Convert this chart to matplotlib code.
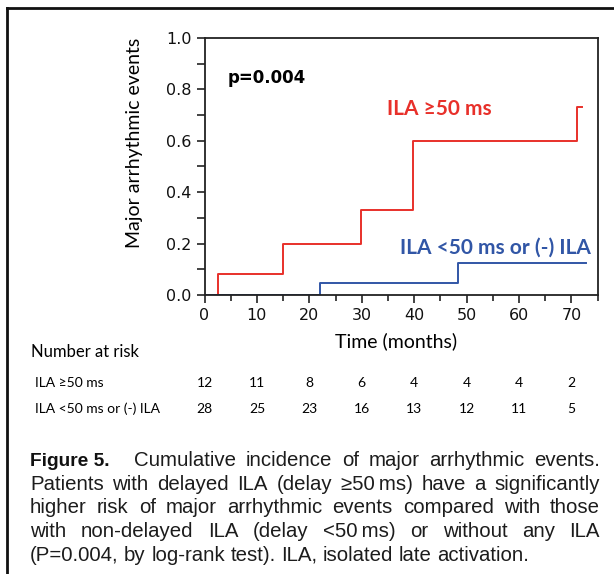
import matplotlib
matplotlib.use("Agg")
import matplotlib.pyplot as plt
import matplotlib.transforms as mtransforms
from matplotlib.lines import Line2D
from matplotlib.ticker import MultipleLocator

# cumulative incidence steps (time in months, cumulative event rate)
high_t = [2.6, 15.0, 29.9, 39.8, 71.1, 72.0]
high_y = [0.082, 0.198, 0.331, 0.599, 0.733, 0.733]
low_t = [22.0, 48.4, 72.8]
low_y = [0.045, 0.125, 0.125]

risk_times = [0, 10, 20, 30, 40, 50, 60, 70]
risk_high = [12, 11, 8, 6, 4, 4, 4, 2]
risk_low = [28, 25, 23, 16, 13, 12, 11, 5]
row_labels = ["ILA \u226550 ms", "ILA <50 ms or (-) ILA"]

caption_lines = [
    ["Figure 5.", "Cumulative", "incidence", "of", "major", "arrhythmic", "events."],
    ["Patients", "with", "delayed", "ILA", "(delay", "\u226550\u2009ms)", "have", "a", "significantly"],
    ["higher", "risk", "of", "major", "arrhythmic", "events", "compared", "with", "those"],
    ["with", "non-delayed", "ILA", "(delay", "<50\u2009ms)", "or", "without", "any", "ILA"],
    ["(P=0.004,", "by", "log-rank", "test).", "ILA,", "isolated", "late", "activation."],
]

RED = "#e8302a"
BLUE = "#3156a6"
W, H = 614, 574

fig = plt.figure(figsize=(W / 100, H / 100), dpi=100)
ax = fig.add_axes([204.5 / W, 1 - 295 / H, (597.7 - 204.5) / W, (295 - 38) / H])


def px(x, y):
    return x / W, 1 - y / H


# curves start at 0
ax.step([0] + high_t, [0] + high_y, where="post", color=RED, lw=1.4)
ax.step([0] + low_t, [0] + low_y, where="post", color=BLUE, lw=1.4)

ax.set_xlim(0, 75)
ax.set_ylim(0, 1.0)
ax.xaxis.set_major_locator(MultipleLocator(10))
ax.xaxis.set_minor_locator(MultipleLocator(5))
ax.yaxis.set_major_locator(MultipleLocator(0.2))
ax.yaxis.set_minor_locator(MultipleLocator(0.1))
ax.yaxis.set_major_formatter(matplotlib.ticker.FormatStrFormatter("%.1f"))
ax.tick_params(which="both", direction="out", color="#222222", width=1.2,
               labelsize=11.5, labelcolor="#111111")
ax.tick_params(axis="y", which="both", length=6)
ax.tick_params(axis="x", which="major", length=6)
ax.tick_params(axis="x", which="minor", length=4)
for s in ax.spines.values():
    s.set_linewidth(1.3)
    s.set_color("#222222")

ax.text(-0.179, 0.593, "Major arrhythmic events", transform=ax.transAxes,
        family="Lato", fontsize=14, rotation=90, ha="center", va="center")
fig.text(*px(396, 341), "Time (months)", family="Lato", fontsize=14,
         ha="center", va="center")

ax.text(4.5, 0.846, "p=0.004", fontsize=12, fontweight="bold", va="center")
ax.text(34.8, 0.724, "ILA \u226550 ms", color=RED, family="Lato", fontweight="bold",
        fontsize=15, va="center")
ax.text(37.2, 0.183, "ILA <50 ms or (-) ILA", color=BLUE, family="Lato",
        fontweight="bold", fontsize=15, va="center")

# number at risk table
fig.text(*px(31, 357), "Number at risk", family="Lato", fontsize=12, va="baseline")
blend = mtransforms.blended_transform_factory(ax.transData, fig.transFigure)
for row, (lab, counts) in enumerate(zip(row_labels, [risk_high, risk_low])):
    ybase = 387 + 26 * row
    fig.text(*px(35, ybase), lab, family="Lato", fontsize=10, va="baseline")
    for t, n in zip(risk_times, counts):
        fig.text(t, 1 - ybase / H, str(n), transform=blend, family="Lato",
                 fontsize=10, ha="center", va="baseline")

# outer frame (cropped at right and bottom)
fig.add_artist(Line2D([6.5 / W, 1.0], [1 - 8 / H] * 2, transform=fig.transFigure,
                      color="#111111", lw=2))
fig.add_artist(Line2D([6.5 / W] * 2, [0, 1 - 8 / H], transform=fig.transFigure,
                      color="#111111", lw=2))

# justified caption
renderer = fig.canvas.get_renderer()
left, right = 30, 600
cap_font = dict(family=["Liberation Sans", "DejaVu Sans"], fontsize=14.7, color="#1c1c1c")
bold_font = dict(family=["Liberation Sans"], fontsize=13.8,
                 fontweight="bold", color="#111111")
for i, words in enumerate(caption_lines):
    ybase = 466 + 23.7 * i
    texts = []
    for j, w in enumerate(words):
        style = bold_font if (i == 0 and j == 0) else cap_font
        texts.append(fig.text(0, 1 - ybase / H, w, va="baseline", **style))
    widths = [t.get_window_extent(renderer).width for t in texts]
    weights = [2.5 if (i == 0 and j == 0) else 1.0 for j in range(len(words) - 1)]
    if i < len(caption_lines) - 1:
        unit = (right - left - sum(widths)) / sum(weights)
    else:
        unit = 5.5
    x = left
    for j, t in enumerate(texts):
        t.set_x(x / W)
        if j < len(weights):
            x += widths[j] + unit * weights[j]

fig.savefig("out.png", dpi=100)
